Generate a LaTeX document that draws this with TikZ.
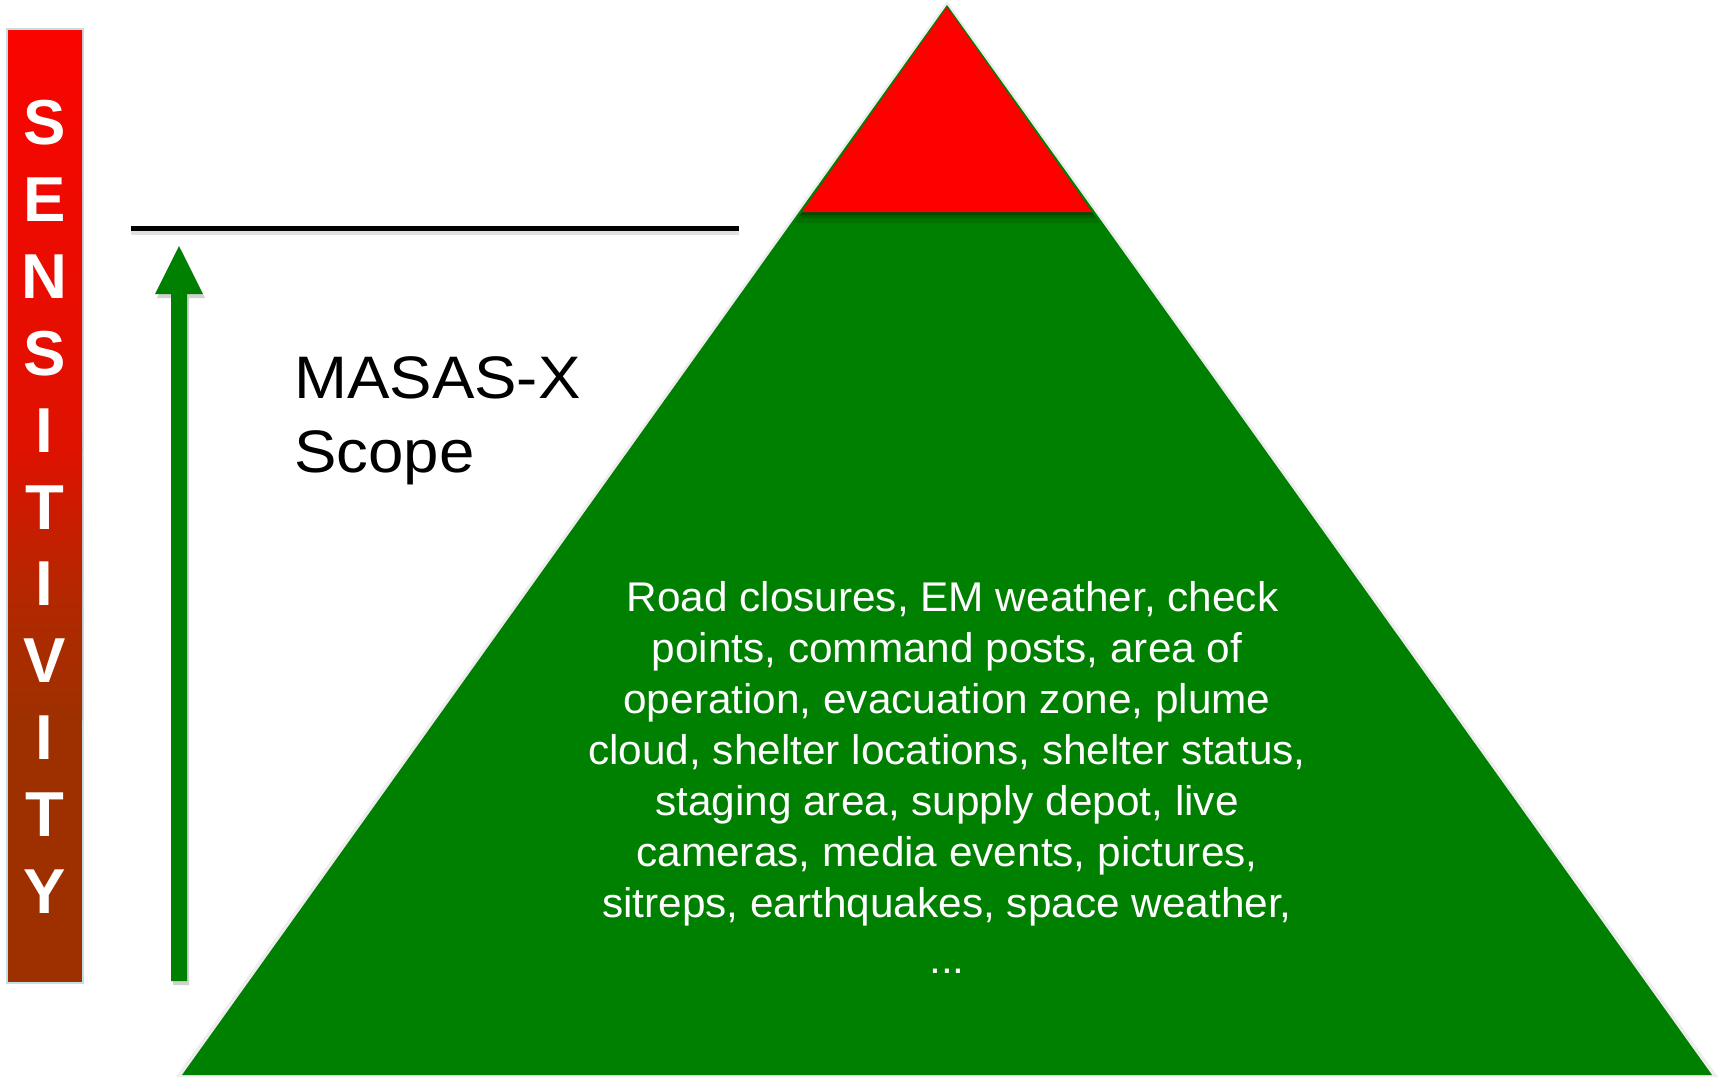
\documentclass[tikz,border=0pt]{standalone}
\usepackage{fontspec}
\setmainfont{Liberation Sans}
\newfontfamily\bodysans[FakeStretch=1.02]{Liberation Sans}
\newfontfamily\scopesans[FakeStretch=1.06]{Liberation Sans}
\definecolor{pgreen}{RGB}{0,128,0}
\definecolor{pred}{RGB}{255,0,0}
\definecolor{barborder}{RGB}{192,224,230}
\definecolor{barA}{RGB}{250,4,0}
\definecolor{barB}{RGB}{222,18,0}
\definecolor{barC}{RGB}{178,40,0}
\definecolor{barD}{RGB}{158,48,0}
\tikzset{
  sensletter/.style={anchor=base, inner sep=0pt, text=white,
    font=\fontsize{63.5}{70}\selectfont\bfseries},
  scopetext/.style={anchor=base west, inner sep=0pt, text=black,
    font=\fontsize{60}{72}\selectfont\scopesans},
  bodytext/.style={anchor=base, inner sep=0pt, text=white,
    font=\fontsize{41.5}{51}\selectfont\bodysans},
  softshadow/.style={fill=black, opacity=0.18},
}
\begin{document}
\begin{tikzpicture}[x=1pt,y=-1pt]
\useasboundingbox (0,0) rectangle (1719,1077);
\fill[white] (0,0) rectangle (1719,1077);

% sensitivity bar
\fill[barborder] (6,28) rectangle (84,984);
\shade[top color=barA, bottom color=barB] (8,30) rectangle (82,450);
\shade[top color=barB, bottom color=barC] (8,449.5) rectangle (82,600);
\shade[top color=barC, bottom color=barD] (8,599.5) rectangle (82,720);
\fill[barD] (8,719.5) rectangle (82,982);
\foreach \l [count=\i from 0] in {S,E,N,S,I,T,I,V,I,T,Y}
  \node[sensletter] (sens\i) at (44.5,{144.5+76.9*\i}) {\l};

% pyramid
\coordinate (apex) at (947,5);
\coordinate (bl) at (182,1075);
\coordinate (br) at (1712,1075);
\fill[black!7] (947,1) -- (176,1077) -- (1718,1077) -- cycle;
\fill[pgreen] (apex) -- (bl) -- (br) -- cycle;
\coordinate (rapex) at (947,7);
\coordinate (rl) at (802,212);
\coordinate (rr) at (1092,212);
\begin{scope}
  \clip (apex) -- (bl) -- (br) -- cycle;
  \fill[black, opacity=0.10] (947,11) -- (794,223) -- (1100,223) -- cycle;
  \fill[black, opacity=0.15] (947,9) -- (798,218) -- (1096,218) -- cycle;
  \fill[black, opacity=0.20] (947,8) -- (800,215) -- (1094,215) -- cycle;
\end{scope}
\fill[pred] (rapex) -- (rl) -- (rr) -- cycle;

% scope line with shadow
\coordinate (lineL) at (131,228);
\coordinate (lineR) at (739,228);
\draw[black, opacity=0.12, line width=5pt] ([yshift=-4pt]lineL) -- ([yshift=-4pt]lineR);
\draw[black, line width=5pt] (lineL) -- (lineR);

% green arrow with shadow
\coordinate (tip) at (179,246);
\fill[softshadow] (173,985) -- (173,298) -- (157,298) -- (181,249) -- (205,298) -- (189,298) -- (189,985) -- cycle;
\fill[pgreen] (171,981) -- (171,294) -- (155,294) -- (tip) -- (203,294) -- (187,294) -- (187,981) -- cycle;

% labels
\node[scopetext] (masas) at (294,398) {MASAS-X};
\node[scopetext] (scopelbl) at (294,472) {Scope};

\node[bodytext] (t1) at (952.5,611) {Road closures, EM weather, check};
\node[bodytext] (t2) at (947,662) {points, command posts, area of};
\node[bodytext] (t3) at (947,713) {operation, evacuation zone, plume};
\node[bodytext] (t4) at (947,764) {cloud, shelter locations, shelter status,};
\node[bodytext] (t5) at (947,815) {staging area, supply depot, live};
\node[bodytext] (t6) at (947,866) {cameras, media events, pictures,};
\node[bodytext] (t7) at (947,917) {sitreps, earthquakes, space weather,};
\node[bodytext] (t8) at (947,973) {...};
\end{tikzpicture}
\end{document}
